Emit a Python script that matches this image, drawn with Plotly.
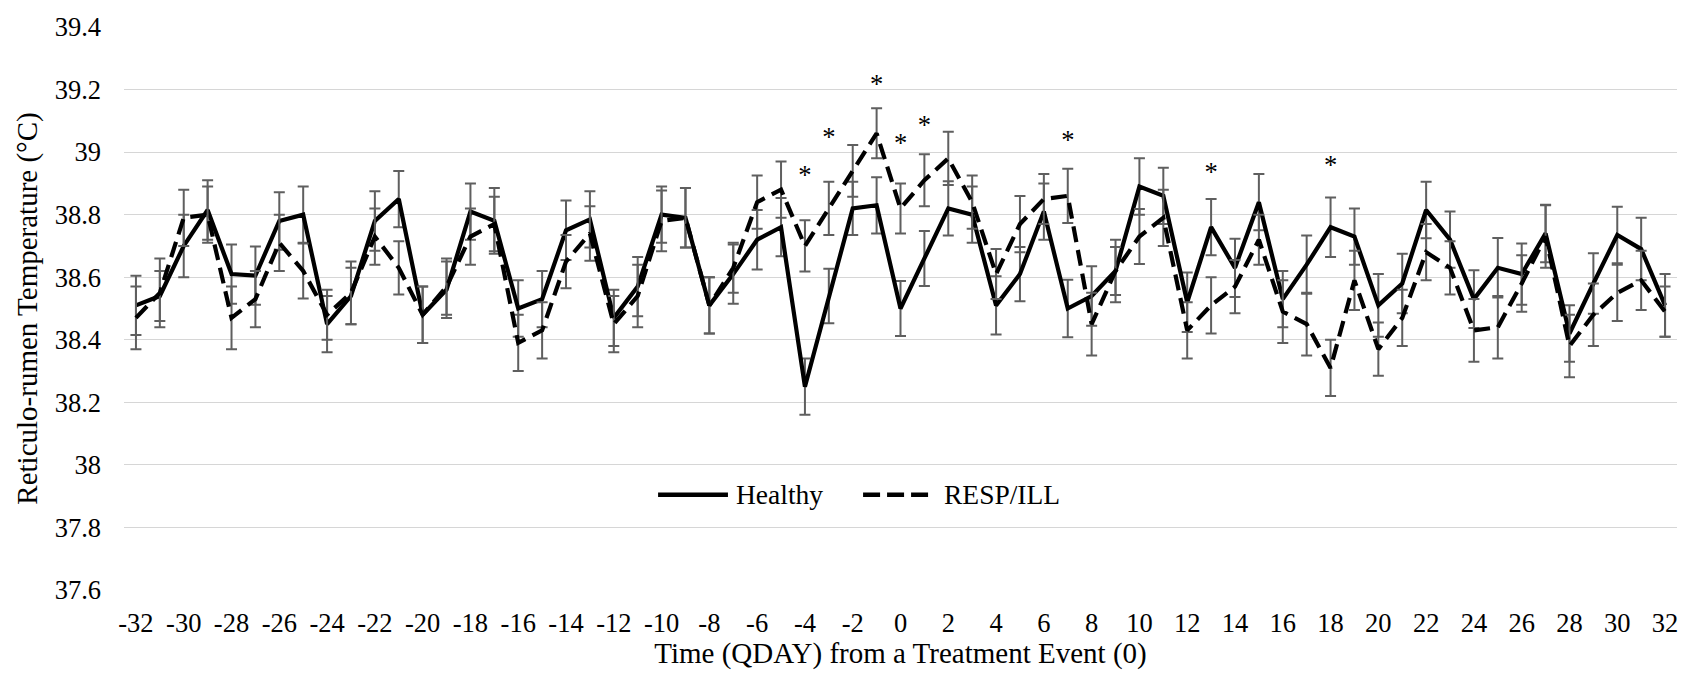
import plotly.graph_objects as go

qday = list(range(-32, 33))

healthy = [38.51, 38.54, 38.70, 38.815, 38.61, 38.605, 38.78, 38.80, 38.45, 38.54,
           38.78, 38.85, 38.48, 38.56, 38.81, 38.78, 38.50, 38.53, 38.75, 38.785,
           38.47, 38.57, 38.80, 38.79, 38.51, 38.61, 38.72, 38.76, 38.25, 38.54,
           38.82, 38.83, 38.50, 38.66, 38.82, 38.80, 38.51, 38.61, 38.81, 38.50,
           38.54, 38.62, 38.89, 38.86, 38.52, 38.76, 38.63, 38.84, 38.53, 38.64,
           38.76, 38.73, 38.51, 38.58, 38.815, 38.72, 38.53, 38.63, 38.61, 38.74,
           38.42, 38.58, 38.735, 38.69, 38.51]

healthy_se = [0.095, 0.08, 0.10, 0.095, 0.095, 0.093, 0.092, 0.09, 0.09, 0.09,
              0.095, 0.09, 0.09, 0.09, 0.09, 0.105, 0.09, 0.09, 0.095, 0.09,
              0.09, 0.095, 0.09, 0.095, 0.09, 0.095, 0.095, 0.093, 0.09, 0.087,
              0.085, 0.09, 0.088, 0.088, 0.087, 0.09, 0.093, 0.087, 0.09, 0.092,
              0.095, 0.10, 0.09, 0.09, 0.095, 0.09, 0.093, 0.09, 0.09, 0.093,
              0.095, 0.09, 0.10, 0.095, 0.09, 0.09, 0.092, 0.095, 0.098, 0.092,
              0.09, 0.097, 0.09, 0.10, 0.10]

resp = [38.47, 38.55, 38.79, 38.80, 38.47, 38.53, 38.71, 38.62, 38.48, 38.55,
        38.73, 38.63, 38.48, 38.57, 38.73, 38.77, 38.39, 38.43, 38.65, 38.74,
        38.45, 38.54, 38.78, 38.79, 38.51, 38.63, 38.84, 38.88, 38.70, 38.82,
        38.94, 39.06, 38.82, 38.91, 38.98, 38.84, 38.61, 38.77, 38.85, 38.86,
        38.45, 38.62, 38.73, 38.79, 38.43, 38.51, 38.57, 38.72, 38.49, 38.45,
        38.31, 38.59, 38.37, 38.47, 38.68, 38.63, 38.43, 38.44, 38.58, 38.73,
        38.38, 38.48, 38.55, 38.59, 38.49]

resp_se = [0.10, 0.11, 0.09, 0.09, 0.10, 0.09, 0.09, 0.088, 0.08, 0.10,
           0.09, 0.085, 0.09, 0.09, 0.09, 0.087, 0.09, 0.09, 0.085, 0.087,
           0.09, 0.10, 0.097, 0.095, 0.09, 0.08, 0.085, 0.09, 0.082, 0.085,
           0.083, 0.08, 0.08, 0.083, 0.085, 0.085, 0.08, 0.09, 0.08, 0.087,
           0.10, 0.077, 0.088, 0.09, 0.09, 0.09, 0.085, 0.08, 0.10, 0.10,
           0.09, 0.095, 0.085, 0.09, 0.09, 0.085, 0.10, 0.10, 0.09, 0.10,
           0.10, 0.10, 0.09, 0.095, 0.08]

sig_x = [-4, -3, -1, 0, 1, 7, 13, 18]
sig_y = [38.92, 39.04, 39.21, 39.02, 39.08, 39.03, 38.93, 38.95]

x_ticks = list(range(-32, 33, 2))
x_ticktext = [str(v) for v in x_ticks]  # plain hyphen minus, as in the original
y_ticks = [37.6, 37.8, 38.0, 38.2, 38.4, 38.6, 38.8, 39.0, 39.2, 39.4]
y_ticktext = ["37.6", "37.8", "38", "38.2", "38.4", "38.6", "38.8", "39", "39.2", "39.4"]

FONT = "Liberation Serif, Times New Roman, serif"
FS = 26.5
FS_TITLE = 29
FS_LEG = 27.5
ERR_COLOR = "#5f5f5f"

fig = go.Figure()

fig.add_trace(go.Scatter(
    x=qday, y=healthy, mode="lines", name="Healthy",
    line=dict(color="black", width=4.2),
    error_y=dict(type="data", array=healthy_se, visible=True,
                 color=ERR_COLOR, thickness=2, width=5.5),
    showlegend=False,
))
fig.add_trace(go.Scatter(
    x=qday, y=resp, mode="lines", name="RESP/ILL",
    line=dict(color="black", width=4.2, dash="16px,8px"),
    error_y=dict(type="data", array=resp_se, visible=True,
                 color=ERR_COLOR, thickness=2, width=5.5),
    showlegend=False,
))
fig.add_trace(go.Scatter(
    x=sig_x, y=sig_y, mode="text", text=["*"] * len(sig_x),
    textfont=dict(family=FONT, size=FS, color="black"),
    textposition="middle center", showlegend=False, hoverinfo="skip",
))

# manual legend (Excel style long line samples)
leg_y = 0.169
fig.add_shape(type="line", xref="paper", yref="paper",
              x0=0.3439, x1=0.3889, y0=leg_y, y1=leg_y,
              line=dict(color="black", width=4.5))
fig.add_shape(type="line", xref="paper", yref="paper",
              x0=0.4759, x1=0.5209, y0=leg_y, y1=leg_y,
              line=dict(color="black", width=4.5, dash="17px,7px"))
fig.add_annotation(xref="paper", yref="paper", x=0.3928, y=leg_y,
                   text="Healthy", showarrow=False, xanchor="left", yanchor="middle",
                   font=dict(family=FONT, size=FS_LEG, color="black"))
fig.add_annotation(xref="paper", yref="paper", x=0.5267, y=leg_y,
                   text="RESP/ILL", showarrow=False, xanchor="left", yanchor="middle",
                   font=dict(family=FONT, size=FS_LEG, color="black"))

fig.update_layout(
    width=1702, height=678,
    margin=dict(l=124, r=25, t=23, b=88),
    paper_bgcolor="white", plot_bgcolor="white",
    font=dict(family=FONT, size=FS, color="black"),
    showlegend=False,
)
fig.update_xaxes(
    range=[-32.5, 32.5], tickmode="array", tickvals=x_ticks, ticktext=x_ticktext,
    showgrid=False, zeroline=False, showline=False, ticks="",
    ticklabelstandoff=14,
    tickfont=dict(family=FONT, size=FS, color="black"),
    title=dict(text="Time (QDAY) from a Treatment Event (0)",
               font=dict(family=FONT, size=FS_TITLE, color="black"), standoff=4),
)
fig.update_yaxes(
    range=[37.6, 39.4], tickmode="array", tickvals=y_ticks, ticktext=y_ticktext,
    showgrid=True, gridcolor="#d6d6d6", gridwidth=1.3,
    zeroline=False, showline=False, ticks="",
    ticklabelstandoff=22,
    tickfont=dict(family=FONT, size=FS, color="black"),
    title=dict(text="Reticulo-rumen Temperature (°C)",
               font=dict(family=FONT, size=FS_TITLE, color="black"), standoff=8),
)

fig.write_html("out.html")
